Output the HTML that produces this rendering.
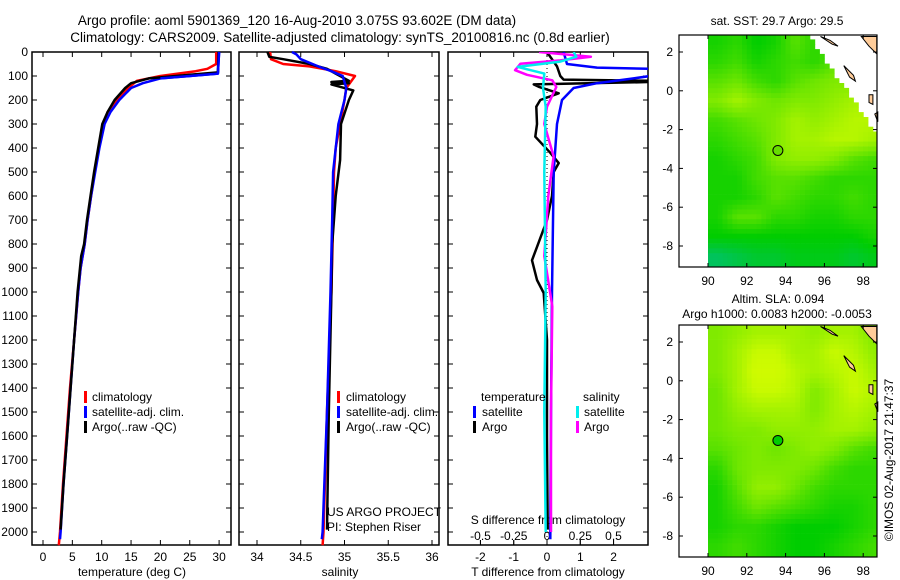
<!DOCTYPE html>
<html><head><meta charset="utf-8">
<style>
html,body{margin:0;padding:0;background:#fff;}
svg{display:block;font-family:"Liberation Sans",sans-serif;}
text{fill:#000;}
</style></head>
<body>
<svg id="fig" width="900" height="580" viewBox="0 0 900 580">
<text x="297" y="25" font-size="13.5" text-anchor="middle">Argo profile: aoml 5901369_120 16-Aug-2010 3.075S 93.602E (DM data)</text>
<text x="340" y="42" font-size="13.5" text-anchor="middle">Climatology: CARS2009. Satellite-adjusted climatology: synTS_20100816.nc (0.8d earlier)</text>
<g id="g"></g>
</svg>
<script>
// ---------- data ----------
const depthTicks=[0,100,200,300,400,500,600,700,800,900,1000,1100,1200,1300,1400,1500,1600,1700,1800,1900,2000];
const tempTicks=[0,5,10,15,20,25,30];
const salTicks=[34,34.5,35,35.5,36];
const tdTicks=[-2,-1,0,1,2];
const sdTicks=[-0.5,-0.25,0,0.25,0.5];
const sdTickLabels=["-0.5","-0.25","0","0.25","0.5"];
const lonTicks=[90,92,94,96,98];
const latTicks=[2,0,-2,-4,-6,-8];

const tClimD=[0,50,70,80,100,120,150,200,250,300,400,500,600,700,800,900,1000,1200,1400,1600,1800,2000,2055];
const tClimV=[29.5,29.5,28,26,20,16,14.5,12.5,11,10.3,9.5,8.8,8.2,7.6,7.1,6.4,6,5.3,4.6,4,3.4,2.9,2.7];
const tSatD=[0,90,100,110,130,150,200,250,300,400,500,600,700,800,900,1000,1200,1400,1600,1800,2000,2030];
const tSatV=[30,29.8,25,20,17,15,13,11.5,10.5,9.6,8.9,8.2,7.6,7.1,6.4,6,5.3,4.7,4.1,3.5,3,2.9];
const tArgoD=[0,85,95,110,130,150,200,250,300,400,500,600,700,800,850,900,1000,1200,1400,1600,1800,1990];
const tArgoV=[29.9,29.8,25,18,15,14,12.2,11,10.1,9.4,8.7,8.1,7.5,7.0,6.5,6.3,5.9,5.3,4.7,4.1,3.5,3.0];

const sClimD=[0,30,50,60,80,100,150,200,300,400,500,700,1000,1500,2000,2055];
const sClimV=[34.15,34.16,34.3,34.6,34.9,35.12,35.02,35.0,34.95,34.9,34.88,34.87,34.85,34.8,34.76,34.75];
const sSatD=[0,10,30,60,80,100,150,200,300,500,700,1000,1500,2000,2030];
const sSatV=[34.4,34.45,34.5,34.7,34.85,34.98,35.02,35.0,34.93,34.87,34.86,34.84,34.8,34.75,34.74];
const sArgoD=[0,20,30,50,70,90,120,125,130,135,160,200,300,450,600,800,1000,1500,1990];
const sArgoV=[34.12,34.14,34.3,34.6,34.8,34.9,35.05,34.85,35.05,34.85,35.1,35.05,34.96,34.95,34.9,34.86,34.85,34.82,34.8];

const tdSatD=[0,50,65,70,100,110,130,150,200,300,500,1000,1500,2030];
const tdSatV=[0.5,0.6,1.5,3.1,3.1,2.6,1.5,0.8,0.45,0.3,0.2,0.15,0.12,0.1];
const tdArgoD=[0,20,60,100,115,120,125,135,145,172,200,228,300,353,420,463,500,600,700,812,868,950,1004,1200,1600,1990];
const tdArgoV=[0.0,0.1,0.3,0.4,0.5,3.1,3.1,-0.4,-0.25,0.35,-0.2,-0.32,-0.3,-0.35,0.1,0.35,0.2,0.15,0.0,-0.3,-0.45,-0.3,-0.1,0.0,0.0,0.02];
const sdArgoD=[0,20,35,49,76,95,118,146,228,300,435,600,850,1060,1500,2000];
const sdArgoV=[-0.06,0.33,0.1,-0.2,-0.24,-0.15,0.04,0.07,0.0,-0.02,0.05,0.01,-0.02,0.04,0.03,0.03];
const sdSatD=[0,20,40,62,90,150,228,500,1000,1500,2000];
const sdSatV=[0.2,0.22,0.1,-0.22,-0.02,-0.03,-0.01,-0.02,-0.01,-0.02,-0.01];

// maps: rows lat 2.5..-8.5, cols lon 90.5..98.5
const sstGrid=[
[.35,.4,.3,.35,.5,.4,.4,.4,.4],
[.4,.45,.35,.4,.45,.4,.5,.5,.5],
[.5,.55,.45,.4,.5,.55,.6,.6,.6],
[.6,.7,.6,.55,.6,.6,.65,.7,.7],
[.45,.5,.55,.6,.7,.65,.7,.75,.75],
[.4,.45,.5,.6,.7,.7,.75,.75,.7],
[.35,.4,.45,.6,.65,.65,.6,.5,.45],
[.35,.35,.45,.5,.5,.45,.4,.4,.4],
[.35,.35,.4,.5,.45,.4,.4,.45,.4],
[.35,.5,.5,.4,.4,.35,.35,.4,.4],
[.3,.3,.3,.3,.3,.3,.3,.3,.35],
[.1,.15,.2,.2,.25,.25,.25,.2,.25]];
const slaGrid=[
[.6,.65,.7,.7,.7,.65,.7,.7,.6],
[.6,.7,.8,.8,.7,.7,.8,.75,.65],
[.6,.7,.85,.85,.75,.7,.75,.8,.7],
[.55,.7,.8,.8,.75,.6,.7,.8,.75],
[.55,.65,.7,.7,.7,.6,.7,.75,.7],
[.55,.6,.6,.65,.65,.65,.7,.7,.65],
[.5,.55,.6,.55,.6,.65,.6,.5,.45],
[.4,.55,.6,.6,.6,.55,.45,.4,.4],
[.35,.5,.65,.65,.55,.45,.4,.4,.4],
[.35,.45,.55,.5,.45,.4,.35,.35,.4],
[.35,.4,.4,.35,.3,.3,.3,.35,.4],
[.4,.45,.4,.35,.3,.3,.35,.4,.45]];
const argoLon=93.602, argoLat=-3.075;

// ---------- helpers ----------
const NS="http://www.w3.org/2000/svg";
const G=document.getElementById('g');
function mk(tag,attrs,parent){const e=document.createElementNS(NS,tag);for(const k in attrs)e.setAttribute(k,attrs[k]);(parent||G).appendChild(e);return e;}
const yD=d=>52+d*0.24;
const PT=52,PB=545;
function box(x0,x1,name){
  const r=mk('rect',{x:x0,y:PT,width:x1-x0,height:PB-PT,fill:'none',stroke:'#000','stroke-width':1.5});
  
  
  depthTicks.forEach(d=>{mk('line',{x1:x0,x2:x0+5,y1:yD(d),y2:yD(d),stroke:'#000'});mk('line',{x1:x1-5,x2:x1,y1:yD(d),y2:yD(d),stroke:'#000'});});
}
function xTicks(vals,labels,fx,name,top){
  vals.forEach((v,i)=>{const x=fx(v);
    mk('line',{x1:x,x2:x,y1:PB-5,y2:PB,stroke:'#000'});
    if(top)mk('line',{x1:x,x2:x,y1:PT,y2:PT+5,stroke:'#000'});
    const t=mk('text',{x:x,y:561,'font-size':12,'text-anchor':'middle'});t.textContent=labels[i];
    
    });
}
function line(ds,vs,fx,color,name,w){
  const p=ds.map((d,i)=>fx(vs[i]).toFixed(1)+','+yD(d).toFixed(1)).join(' ');
  const e=mk('polyline',{points:p,fill:'none',stroke:color,'stroke-width':w||2.5,'stroke-linejoin':'round'});
  
  
}
function txt(x,y,s,name,size,anchor){const t=mk('text',{x:x,y:y,'font-size':size||12,'text-anchor':anchor||'start'});t.textContent=s;
  
  return t;}
function legBar(x,y,color,name){const e=mk('rect',{x:x,y:y-6,width:3,height:12,fill:color});
  
  }

// ---------- panel 1: temperature ----------
const fT=v=>43+v*5.87;
box(32,231,'temperature-panel');
depthTicks.forEach(d=>{txt(28,yD(d)+4,String(d),'depth-tick-label',12,'end');});
xTicks(tempTicks,tempTicks.map(String),fT,'temperature-tick-label',true);
line(tClimD,tClimV,fT,'#f00','temp-climatology-line');
line(tSatD,tSatV,fT,'#00f','temp-satellite-line');
line(tArgoD,tArgoV,fT,'#000','temp-argo-line');
line(tSatD.slice(0,4),tSatV.slice(0,4),fT,'#00f','temp-satellite-top-line');
txt(132,576,'temperature (deg C)','temperature-axis-title',12,'middle');
legBar(84,397,'#f00','legend-climatology-swatch');txt(92,401,'climatology','legend-climatology');
legBar(84,412,'#00f','legend-satellite-swatch');txt(92,416,'satellite-adj. clim.','legend-satellite');
legBar(84,427,'#000','legend-argo-swatch');txt(92,431,'Argo(..raw -QC)','legend-argo');

// ---------- panel 2: salinity ----------
const fS=v=>257+(v-34)*87.5;
box(239,439,'salinity-panel');
xTicks(salTicks,salTicks.map(String),fS,'salinity-tick-label',true);
line(sClimD,sClimV,fS,'#f00','sal-climatology-line');
line(sArgoD,sArgoV,fS,'#000','sal-argo-line');
line(sSatD,sSatV,fS,'#00f','sal-satellite-line');
txt(340,576,'salinity','salinity-axis-title',12,'middle');
legBar(337,397,'#f00','legend2-climatology-swatch');txt(346,401,'climatology','legend2-climatology');
legBar(337,412,'#00f','legend2-satellite-swatch');txt(346,416,'satellite-adj. clim.','legend2-satellite');
legBar(337,427,'#000','legend2-argo-swatch');txt(346,431,'Argo(..raw -QC)','legend2-argo');
txt(327,516,'US ARGO PROJECT','project-label');
txt(327,531,'PI: Stephen Riser','pi-label');

// ---------- panel 3: differences ----------
const fTD=v=>547+v*33.3;
const fSD=v=>547+v*133;
box(448,648,'difference-panel');
mk('clipPath',{id:'c3'});
const cp=document.querySelector('#c3');mk('rect',{x:448,y:PT,width:200,height:PB-PT},cp);
const gOld=G;
xTicks(tdTicks,tdTicks.map(String),fTD,'tdiff-tick-label',true);
sdTicks.forEach((v,i)=>{const x=fSD(v);mk('line',{x1:x,x2:x,y1:PB-5,y2:PB,stroke:'#000'});txt(x,540,sdTickLabels[i],'sdiff-tick-label',12,'middle');});
txt(548,524,'S difference from climatology','sdiff-axis-title',12,'middle');
const gc=mk('g',{'clip-path':'url(#c3)'});
function line3(ds,vs,fx,color,name){
  const p=ds.map((d,i)=>fx(vs[i]).toFixed(1)+','+yD(d).toFixed(1)).join(' ');
  const e=mk('polyline',{points:p,fill:'none',stroke:color,'stroke-width':2.5,'stroke-linejoin':'round'},gc);
  
  
}
mk('line',{x1:547,x2:547,y1:PT,y2:PB,stroke:'#000','stroke-dasharray':'1,3','stroke-width':1},gc);
line3(tdArgoD,tdArgoV,fTD,'#000','tdiff-argo-line');
line3(tdSatD,tdSatV,fTD,'#00f','tdiff-satellite-line');
line3(sdArgoD,sdArgoV,fSD,'#f0f','sdiff-argo-line');
line3(sdSatD,sdSatV,fSD,'#0ee','sdiff-satellite-line');
txt(548,576,'T difference from climatology','tdiff-axis-title',12,'middle');
txt(481,401,'temperature','legend3-temperature-header');
txt(583,401,'salinity','legend3-salinity-header');
legBar(473,412,'#00f','legend3-tsat-swatch');txt(482,416,'satellite','legend3-tsat');
legBar(473,427,'#000','legend3-targo-swatch');txt(482,431,'Argo','legend3-targo');
legBar(576,412,'#0ee','legend3-ssat-swatch');txt(584,416,'satellite','legend3-ssat');
legBar(576,427,'#f0f','legend3-sargo-swatch');txt(584,431,'Argo','legend3-sargo');

// ---------- maps ----------
const stops=[[0,[0,190,140]],[0.3,[0,205,0]],[0.55,[110,230,0]],[0.8,[200,250,0]],[1,[230,255,0]]];
function cmap(v){for(let i=1;i<stops.length;i++){if(v<=stops[i][0]){const a=stops[i-1],b=stops[i];const t=(v-a[0])/(b[0]-a[0]);
  return 'rgb('+a[1].map((c,k)=>Math.round(c+(b[1][k]-c)*t)).join(',')+')';}}return 'rgb(230,255,0)';}
function sample(grid,lon,lat){
  let c=lon-90.5,r=2.5-lat;c=Math.max(0,Math.min(8,c));r=Math.max(0,Math.min(11,r));
  const c0=Math.min(7,Math.floor(c)),r0=Math.min(10,Math.floor(r));const fc=c-c0,fr=r-r0;
  return grid[r0][c0]*(1-fc)*(1-fr)+grid[r0][c0+1]*fc*(1-fr)+grid[r0+1][c0]*(1-fc)*fr+grid[r0+1][c0+1]*fc*fr;
}
function drawMap(y0,grid,name,mask,dotColor){
  const X0=679,X1=877,Y1=y0+232;
  const fx=lon=>708+(lon-90)*19.4, fy=lat=>(y0+17)-(lat-2)*19.4;
  const gm=mk('g',{});
  
  
  const step=0.25;
  for(let lon=90;lon<98.75;lon+=step){for(let lat=-9.1;lat<2.85;lat+=step){
    const lc=lon+step/2, la=lat+step/2;
    if(mask && la>2.8-1.43*(lc-95.2))continue;
    const x=Math.max(fx(lon),708),w=Math.min(fx(lon+step),X1)-x;
    const yy=Math.max(fy(lat+step),y0),h=Math.min(fy(lat),Y1)-yy;
    if(w<=0||h<=0)continue;
    mk('rect',{x:x.toFixed(1),y:yy.toFixed(1),width:(w+0.4).toFixed(1),height:(h+0.4).toFixed(1),fill:cmap(sample(grid,lc,la))},gm);
  }}
  // land
  [[97.9,2.8,98.7,2.8,98.7,1.9,98.3,2.3],[97.0,1.3,97.5,0.8,97.6,0.5,97.3,0.7],[95.8,2.8,96.4,2.4,96.7,2.3,96.3,2.6],[98.3,-0.2,98.5,-0.2,98.5,-0.7,98.3,-0.6],[98.6,-1.2,98.75,-1.1,98.75,-1.6]].forEach((p,i)=>{
    const pts=[];for(let k=0;k<p.length;k+=2)pts.push(fx(p[k]).toFixed(1)+','+fy(p[k+1]).toFixed(1));
    const e=mk('polygon',{points:pts.join(' '),fill:'#fc9',stroke:'#000','stroke-width':1},gm);
    
    
  });
  const r=mk('rect',{x:X0,y:y0,width:X1-X0,height:Y1-y0,fill:'none',stroke:'#000','stroke-width':1.2});
  
  
  lonTicks.forEach(l=>{const x=fx(l);mk('line',{x1:x,x2:x,y1:Y1-4,y2:Y1,stroke:'#000'});mk('line',{x1:x,x2:x,y1:y0,y2:y0+4,stroke:'#000'});
    txt(x,Y1+18,String(l),name+'-lon-label',12,'middle');});
  latTicks.forEach(l=>{const y=fy(l);mk('line',{x1:X0,x2:X0+4,y1:y,y2:y,stroke:'#000'});mk('line',{x1:X1-4,x2:X1,y1:y,y2:y,stroke:'#000'});
    txt(673,y+4,String(l),name+'-lat-label',12,'end');});
  const c=mk('circle',{cx:fx(argoLon),cy:fy(argoLat),r:5,fill:dotColor,stroke:'#000','stroke-width':1});
  
  
}
drawMap(35,sstGrid,'sst-map',true,'#6d0');
drawMap(325,slaGrid,'sla-map',false,'#0c0');
txt(777,25,'sat. SST: 29.7 Argo: 29.5','sst-map-title',12,'middle');
txt(778,303,'Altim. SLA: 0.094','sla-map-title',12,'middle');
txt(777,318,'Argo h1000: 0.0083 h2000: -0.0053','sla-map-subtitle',12,'middle');
const cr=txt(0,0,'©IMOS 02-Aug-2017 21:47:37','copyright-label',12,'middle');
cr.setAttribute('transform','translate(893,460) rotate(-90)');
</script>
</body></html>
